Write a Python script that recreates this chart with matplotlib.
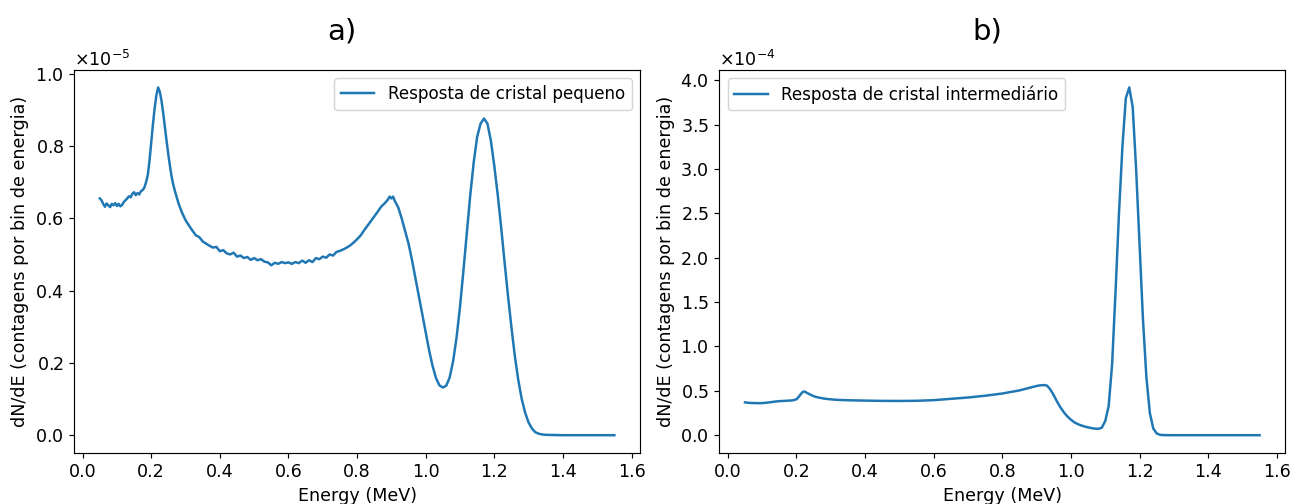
import numpy as np
import matplotlib
matplotlib.use("Agg")
import matplotlib.pyplot as plt

# Resposta de cristal pequeno (unidades de 1e-5)
energia_peq = [0.050, 0.055, 0.060, 0.065, 0.070, 0.075, 0.080, 0.085, 0.090, 0.095,
               0.100, 0.105, 0.110, 0.115, 0.120, 0.125, 0.130, 0.135, 0.140, 0.145,
               0.150, 0.155, 0.160, 0.165, 0.170, 0.175, 0.180, 0.185, 0.190, 0.195,
               0.200, 0.205, 0.210, 0.215, 0.220, 0.225, 0.230, 0.235, 0.240, 0.245,
               0.250, 0.255, 0.260, 0.265, 0.270, 0.280, 0.290, 0.300, 0.310, 0.320,
               0.330, 0.340, 0.350, 0.360, 0.370, 0.380, 0.390, 0.400, 0.410, 0.420,
               0.430, 0.440, 0.450, 0.460, 0.470, 0.480, 0.490, 0.500, 0.510, 0.520,
               0.530, 0.540, 0.550, 0.560, 0.570, 0.580, 0.590, 0.600, 0.610, 0.620,
               0.630, 0.640, 0.650, 0.660, 0.670, 0.680, 0.690, 0.700, 0.710, 0.720,
               0.730, 0.740, 0.750, 0.760, 0.770, 0.780, 0.790, 0.800, 0.810, 0.820,
               0.830, 0.840, 0.850, 0.860, 0.870, 0.880, 0.890, 0.895, 0.900, 0.905,
               0.910, 0.920, 0.930, 0.940, 0.950, 0.960, 0.970, 0.980, 0.990, 1.000,
               1.010, 1.020, 1.030, 1.040, 1.050, 1.060, 1.070, 1.080, 1.090, 1.100,
               1.110, 1.120, 1.130, 1.140, 1.150, 1.160, 1.170, 1.180, 1.190, 1.200,
               1.210, 1.220, 1.230, 1.240, 1.250, 1.260, 1.270, 1.280, 1.290, 1.300,
               1.310, 1.320, 1.330, 1.340, 1.350, 1.400, 1.450, 1.500, 1.550]
dnde_peq = [0.655, 0.650, 0.640, 0.632, 0.641, 0.636, 0.631, 0.640, 0.636, 0.642,
            0.634, 0.640, 0.633, 0.637, 0.645, 0.650, 0.655, 0.661, 0.658, 0.668,
            0.672, 0.664, 0.670, 0.666, 0.675, 0.678, 0.685, 0.700, 0.720, 0.760,
            0.810, 0.860, 0.905, 0.940, 0.962, 0.950, 0.925, 0.890, 0.850, 0.812,
            0.775, 0.742, 0.712, 0.690, 0.672, 0.640, 0.615, 0.595, 0.580, 0.566,
            0.553, 0.548, 0.536, 0.530, 0.524, 0.519, 0.521, 0.509, 0.512, 0.503,
            0.500, 0.505, 0.494, 0.497, 0.490, 0.493, 0.485, 0.490, 0.484, 0.487,
            0.480, 0.478, 0.470, 0.477, 0.474, 0.479, 0.476, 0.478, 0.474, 0.479,
            0.476, 0.483, 0.477, 0.484, 0.479, 0.490, 0.487, 0.494, 0.491, 0.500,
            0.497, 0.507, 0.510, 0.514, 0.519, 0.525, 0.533, 0.542, 0.552, 0.566,
            0.579, 0.592, 0.605, 0.618, 0.632, 0.641, 0.652, 0.660, 0.655, 0.660,
            0.648, 0.630, 0.600, 0.565, 0.530, 0.485, 0.435, 0.385, 0.335, 0.285,
            0.235, 0.192, 0.158, 0.138, 0.132, 0.137, 0.160, 0.205, 0.270, 0.355,
            0.455, 0.560, 0.665, 0.755, 0.825, 0.862, 0.876, 0.862, 0.815, 0.745,
            0.665, 0.575, 0.478, 0.385, 0.298, 0.218, 0.152, 0.100, 0.062, 0.035,
            0.018, 0.008, 0.004, 0.002, 0.001, 0.000, 0.000, 0.000, 0.000]

# Resposta de cristal intermediario (unidades de 1e-4)
energia_int = [0.050, 0.060, 0.070, 0.080, 0.090, 0.100, 0.110, 0.120, 0.130, 0.140,
               0.150, 0.160, 0.170, 0.180, 0.190, 0.200, 0.205, 0.210, 0.215, 0.220,
               0.225, 0.230, 0.240, 0.250, 0.260, 0.280, 0.300, 0.320, 0.350, 0.400,
               0.450, 0.500, 0.550, 0.600, 0.650, 0.700, 0.750, 0.800, 0.850, 0.880,
               0.900, 0.910, 0.920, 0.930, 0.940, 0.950, 0.960, 0.970, 0.980, 0.990,
               1.000, 1.010, 1.020, 1.030, 1.040, 1.050, 1.060, 1.070, 1.080, 1.090,
               1.100, 1.110, 1.120, 1.130, 1.140, 1.150, 1.160, 1.170, 1.180, 1.190,
               1.200, 1.210, 1.220, 1.230, 1.240, 1.250, 1.260, 1.270, 1.300, 1.400,
               1.500, 1.550]
dnde_int = [0.370, 0.365, 0.363, 0.362, 0.361, 0.362, 0.365, 0.370, 0.375, 0.380,
            0.384, 0.386, 0.388, 0.390, 0.394, 0.405, 0.425, 0.450, 0.475, 0.492,
            0.490, 0.478, 0.458, 0.440, 0.428, 0.413, 0.404, 0.398, 0.394, 0.390,
            0.387, 0.386, 0.388, 0.395, 0.410, 0.425, 0.445, 0.470, 0.505, 0.535,
            0.555, 0.562, 0.565, 0.560, 0.515, 0.450, 0.375, 0.310, 0.255, 0.210,
            0.175, 0.145, 0.125, 0.110, 0.098, 0.088, 0.080, 0.074, 0.072, 0.085,
            0.160, 0.330, 0.800, 1.620, 2.500, 3.250, 3.800, 3.920, 3.700, 3.000,
            2.150, 1.300, 0.650, 0.250, 0.075, 0.020, 0.004, 0.001, 0.000, 0.000,
            0.000, 0.000]

escala_peq = 1e-5
escala_int = 1e-4

plt.rcParams['font.size'] = 12

fig = plt.figure(figsize=(1290 / 105, 504 / 105), dpi=105)
ax1 = fig.add_axes([0.0574, 0.102, 0.4388, 0.759])
ax2 = fig.add_axes([0.5576, 0.102, 0.4388, 0.759])

# a) cristal pequeno
ax1.plot(energia_peq, np.array(dnde_peq) * escala_peq, lw=1.7, label='Resposta de cristal pequeno')
ax1.set_xlabel('Energy (MeV)')
ax1.set_ylabel('dN/dE (contagens por bin de energia)')
ax1.set_title('a)', fontsize=20, x=0.474, pad=21)
ax1.legend(loc='upper right', fontsize=11.5)

# b) cristal intermediario
ax2.plot(energia_int, np.array(dnde_int) * escala_int, lw=1.7, label='Resposta de cristal intermediário')
ax2.set_xlabel('Energy (MeV)')
ax2.set_ylabel('dN/dE (contagens por bin de energia)')
ax2.set_title('b)', fontsize=20, x=0.474, pad=21)
ax2.legend(loc='upper left', fontsize=11.5)

for ax in (ax1, ax2):
    ax.ticklabel_format(axis='y', style='sci', scilimits=(0, 0), useMathText=True)
    ax.set_xticks([0.0, 0.2, 0.4, 0.6, 0.8, 1.0, 1.2, 1.4, 1.6])

fig.savefig('out.png', dpi=105)
